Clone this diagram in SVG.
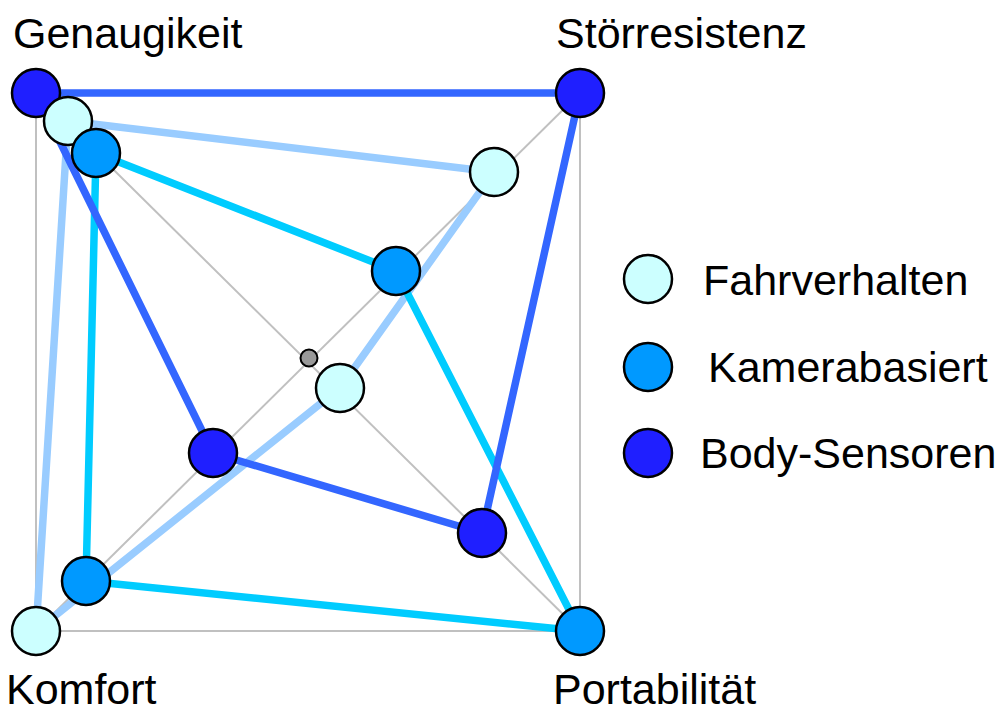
<svg xmlns="http://www.w3.org/2000/svg" width="1000" height="720" viewBox="0 0 1000 720">
<style>
.grid{fill:none;stroke:#c0c0c0;stroke-width:2}
.conn{fill:none;stroke-width:7.5;stroke-linejoin:round}
.fahr{fill:#ccffff;stroke:#000;stroke-width:2.5}
.kam{fill:#0099ff;stroke:#000;stroke-width:2.5}
.body{fill:#1f1fff;stroke:#000;stroke-width:2.5}
text{font-family:"Liberation Sans",Arial,sans-serif;font-size:43px;fill:#000}
</style>
<rect width="1000" height="720" fill="#fff"/>
<g id="grid">
<rect class="grid" x="36" y="93" width="544" height="538"/>
<line class="grid" x1="36" y1="93" x2="580" y2="631"/>
<line class="grid" x1="580" y1="93" x2="36" y2="631"/>
</g>
<g id="connectors">
<polygon class="conn" stroke="#99ccff" points="68,121 494,172 340,388 36,631"/>
<polygon class="conn" stroke="#00ccff" points="96,153 396,271 580,631 86,581"/>
<polygon class="conn" stroke="#3366ff" points="36,93 580,93 482,533 213,453"/>
</g>
<g id="center"><circle cx="309" cy="358" r="8.5" fill="#999" stroke="#000" stroke-width="2"/></g>
<g id="body-genauigkeit"><circle class="body" cx="36" cy="93" r="24"/></g>
<g id="fahr-genauigkeit"><circle class="fahr" cx="68" cy="121" r="24"/></g>
<g id="kam-genauigkeit"><circle class="kam" cx="96" cy="153" r="24"/></g>
<g id="body-stoerresistenz"><circle class="body" cx="580" cy="93" r="24"/></g>
<g id="fahr-stoerresistenz"><circle class="fahr" cx="494" cy="172" r="24"/></g>
<g id="kam-stoerresistenz"><circle class="kam" cx="396" cy="271" r="24"/></g>
<g id="fahr-portabilitaet"><circle class="fahr" cx="340" cy="388" r="24"/></g>
<g id="body-komfort"><circle class="body" cx="213" cy="453" r="24"/></g>
<g id="body-portabilitaet"><circle class="body" cx="482" cy="533" r="24"/></g>
<g id="kam-komfort"><circle class="kam" cx="86" cy="581" r="24"/></g>
<g id="fahr-komfort"><circle class="fahr" cx="36" cy="631" r="24"/></g>
<g id="kam-portabilitaet"><circle class="kam" cx="580" cy="631" r="24"/></g>
<g id="axis-labels">
<text x="13" y="48">Genaugikeit</text>
<text x="556" y="48">Störresistenz</text>
<text x="6" y="704">Komfort</text>
<text x="553" y="704">Portabilität</text>
</g>
<g id="legend">
<g id="legend-fahr"><circle class="fahr" cx="648" cy="279" r="24"/><text x="703" y="295">Fahrverhalten</text></g>
<g id="legend-kam"><circle class="kam" cx="648" cy="367" r="24"/><text x="708" y="382">Kamerabasiert</text></g>
<g id="legend-body"><circle class="body" cx="648" cy="453" r="24"/><text x="700" y="468">Body-Sensoren</text></g>
</g>
</svg>
